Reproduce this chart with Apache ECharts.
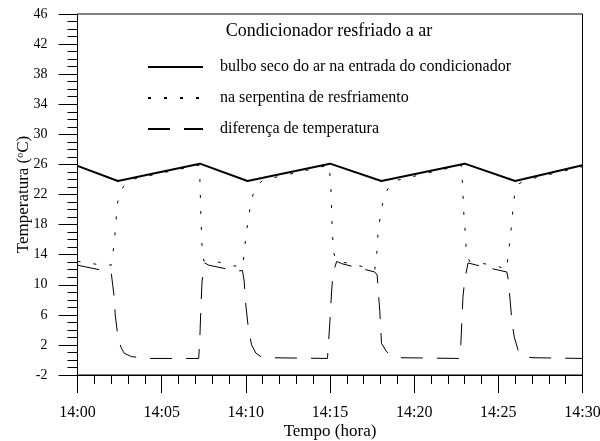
<!DOCTYPE html>
<html>
<head>
<meta charset="utf-8">
<script src="https://cdn.jsdelivr.net/npm/echarts@6/dist/echarts.min.js"></script>
<style>
  html, body { margin: 0; padding: 0; background: #fff; }
  #chart { width: 600px; height: 441px; }
</style>
</head>
<body>
<div id="chart"></div>
<script>
var fonte = 'Liberation Serif';

// tempo em minutos depois das 14:00
var tBulbo = [0, 2.4, 7.27, 10.1, 15.0, 18.05, 23.0, 26.0, 30];
var bulbo  = [25.8, 23.8, 26.1, 23.8, 26.1, 23.8, 26.1, 23.8, 25.9];

var tSerp = [0, 1.2, 2.0, 2.17, 2.28, 2.35, 2.5, 2.71, 3.0, 7.2, 7.27, 7.33, 7.4, 7.5, 8.4, 9.3, 9.8,
             9.9, 10.0, 10.2, 10.35, 10.6, 11.0, 14.95, 15.05, 15.12, 15.2, 15.35, 16.6, 17.66, 17.8,
             17.86, 18.1, 18.3, 18.6, 19.0, 22.8, 22.88, 22.96, 23.05, 23.1, 23.3, 23.8, 24.8, 25.5,
             25.6, 25.7, 25.8, 25.9, 26.0, 26.2, 26.6, 30];
var serp  = [13.1, 12.7, 12.6, 15.3, 18.0, 20.6, 22.0, 23.0, 23.9, 25.9, 24.0, 19.0, 15.0, 13.2, 13.0, 12.5, 12.4,
             14.0, 16.5, 19.5, 21.5, 23.0, 23.9, 25.9, 23.0, 18.0, 14.5, 13.2, 12.6, 12.0, 14.6,
             17.3, 20.5, 22.2, 23.4, 23.9, 25.9, 23.0, 19.0, 16.5, 14.2, 13.1, 12.9, 12.6, 12.0,
             14.4, 16.0, 18.4, 20.8, 22.5, 23.4, 23.9, 25.7];

var tDif = [0, 1.3, 1.95, 2.02, 2.2, 2.24, 2.41, 2.6, 2.77, 3.2, 4.1, 7.2, 7.27, 7.33, 7.4, 7.56, 7.65, 7.8,
            9.5, 9.8, 9.9, 10.0, 10.15, 10.34, 10.6, 10.93, 11.3, 14.85, 14.9, 15.0, 15.1, 15.19, 15.4,
            15.7, 17.66, 17.8, 17.96, 18.06, 18.36, 18.7, 19.1, 22.7, 22.77, 22.9, 23.0, 23.2, 23.9,
            25.5, 25.6, 25.8, 25.94, 26.2, 26.48, 27.0, 30];
var dif  = [12.6, 12.0, 11.8, 11.3, 8.0, 6.0, 2.9, 1.6, 0.9, 0.45, 0.2, 0.2, 3.0, 7.0, 10.5, 12.9, 13.0, 12.6,
            11.8, 11.9, 10.5, 7.3, 4.2, 2.0, 0.9, 0.4, 0.3, 0.2, 0.4, 5.3, 9.3, 11.7, 13.1,
            12.8, 11.7, 11.3, 6.4, 2.2, 1.1, 0.5, 0.3, 0.2, 2.0, 8.4, 10.6, 12.9, 12.5,
            11.7, 10.6, 5.3, 3.1, 1.1, 0.5, 0.3, 0.2];

var nomes = ['bulbo seco do ar na entrada do condicionador', 'na serpentina de resfriamento', 'diferença de temperatura'];

function pares(t, v) {
    var out = [];
    for (var i = 0; i < t.length; i++) out.push([t[i], v[i]]);
    return out;
}

var myChart = echarts.init(document.getElementById('chart'));
myChart.setOption({
    animation: false,
    textStyle: { fontFamily: fonte, color: '#000' },
    title: {
        text: 'Condicionador resfriado a ar',
        left: 324,
        top: 17,
        textAlign: 'center',
        textStyle: { fontFamily: fonte, fontSize: 18, fontWeight: 'normal', color: '#000' }
    },
    legend: {
        orient: 'vertical',
        left: 142,
        top: 54,
        itemWidth: 55,
        itemHeight: 10,
        itemGap: 15,
        data: nomes,
        itemStyle: { color: 'rgba(0,0,0,0)', borderColor: 'rgba(0,0,0,0)', borderWidth: 0, opacity: 0 },
        textStyle: { fontFamily: fonte, fontSize: 16, color: '#000', padding: [0, 0, 0, 12] }
    },
    grid: {
        left: 77.5, right: 17.5, top: 14, bottom: 66,
        outerBoundsMode: 'none',
        containLabel: false,
        show: true, borderColor: '#000', borderWidth: 1
    },
    xAxis: {
        type: 'value',
        min: 0, max: 30, interval: 5,
        name: 'Tempo (hora)',
        nameLocation: 'middle',
        nameGap: 48,
        nameMoveOverlap: false,
        nameTextStyle: { fontFamily: fonte, fontSize: 17, color: '#000' },
        axisLine: { onZero: false, lineStyle: { color: '#000', width: 1 } },
        axisTick: { show: true, inside: false, length: 18, lineStyle: { color: '#000' } },
        minorTick: { show: true, splitNumber: 5, length: 9, lineStyle: { color: '#000' } },
        splitLine: { show: false },
        axisLabel: {
            margin: 30, fontFamily: fonte, fontSize: 16, color: '#000',
            formatter: function (v) { return '14:' + (v < 10 ? '0' + v : v); }
        }
    },
    yAxis: {
        type: 'value',
        min: -2, max: 46, interval: 4,
        name: '{a|Temperatura (}{b|o}{a|C)}',
        nameLocation: 'middle',
        nameGap: 45,
        nameMoveOverlap: false,
        nameTextStyle: {
            rich: {
                a: { fontFamily: fonte, fontSize: 17, color: '#000' },
                b: { fontFamily: fonte, fontSize: 10, color: '#000', verticalAlign: 'top' }
            }
        },
        axisLine: { show: true, onZero: false, lineStyle: { color: '#000', width: 1 } },
        axisTick: { show: true, inside: false, length: 19, lineStyle: { color: '#000' } },
        minorTick: { show: true, splitNumber: 4, length: 10, lineStyle: { color: '#000' } },
        splitLine: { show: false },
        axisLabel: { margin: 30, fontFamily: fonte, fontSize: 14, color: '#000' }
    },
    series: [{
        name: nomes[0],
        type: 'line',
        symbol: 'none',
        data: pares(tBulbo, bulbo),
        lineStyle: { color: '#000', width: 2 },
        itemStyle: { color: '#000' }
    }, {
        name: nomes[1],
        type: 'line',
        symbol: 'none',
        data: pares(tSerp, serp),
        lineStyle: { color: '#000', width: 1, type: [3, 13] },
        itemStyle: { color: '#000' }
    }, {
        name: nomes[2],
        type: 'line',
        symbol: 'none',
        data: pares(tDif, dif),
        lineStyle: { color: '#000', width: 1, type: [22, 14] },
        itemStyle: { color: '#000' }
    }]
});
</script>
</body>
</html>
